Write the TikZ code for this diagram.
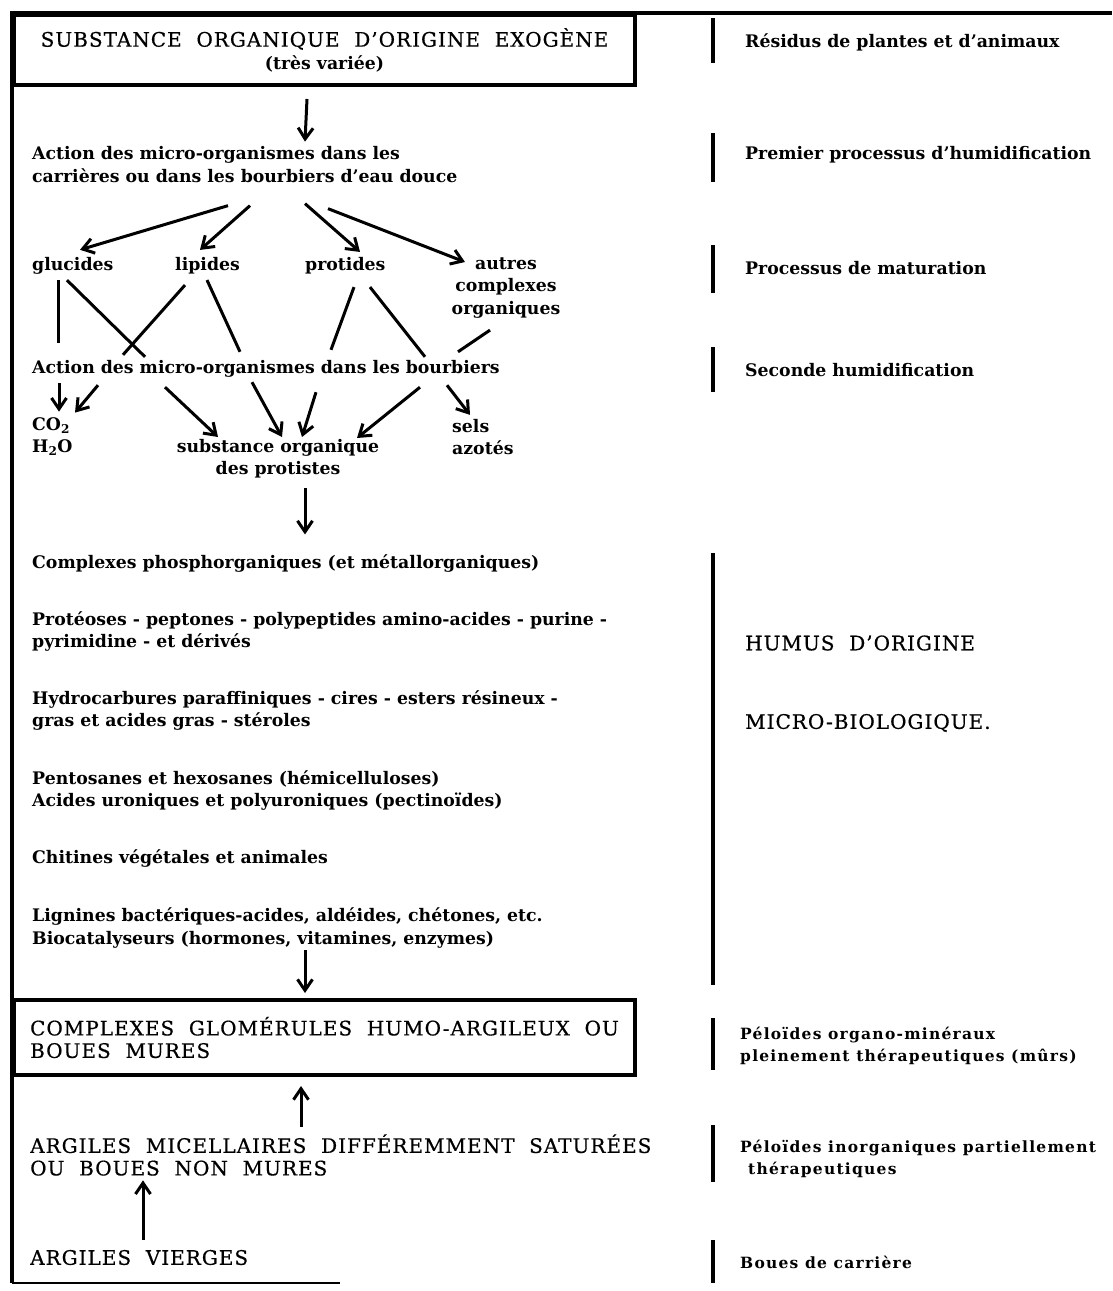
\documentclass[tikz,border=0pt]{standalone}
\usepackage{fontspec}
\setmainfont{DejaVu Serif}
\newfontfamily\capsfont[LetterSpace=5,WordSpace=2,FakeBold=0.6]{DejaVu Serif}
\newfontfamily\sidefont[LetterSpace=8]{DejaVu Serif}
\usetikzlibrary{positioning,arrows.meta}
\tikzset{main text/.style={inner sep=0pt,anchor=west,align=left,font=\bfseries\fontsize{17.3}{22.5}\selectfont},
  caps text/.style={inner sep=0pt,anchor=west,align=left,font=\capsfont\fontsize{20}{22.5}\selectfont},
  side text/.style={inner sep=0pt,anchor=west,align=left,font=\sidefont\bfseries\fontsize{15.5}{22}\selectfont},
  main box/.style={draw,line width=4pt,anchor=north west,inner sep=0pt,minimum width=621pt},
  flow/.style={line width=3pt,-{Straight Barb[length=11pt,width=15pt]}},
  link/.style={line width=3pt},
  side bar/.style={line width=4.5pt},
  frame/.style={line width=4pt}}

\begin{document}
\begin{tikzpicture}[x=1pt,y=-1pt]
            \useasboundingbox (0,0) rectangle (1112,1291);
            \draw[frame] (1112,13) -- (12,13) -- (12,1283);
            \draw[line width=2pt] (12,1283) -- (340,1283);

            \node[main box,align=center,minimum height=70pt,font=\bfseries\fontsize{17.3}{22.5}\selectfont] (origin) at (12,13)
                {{\capsfont\mdseries\fontsize{20}{22.5}\selectfont SUBSTANCE ORGANIQUE D’ORIGINE EXOGÈNE}\\(très variée)};
            \node[main text] (act1) at (32,164.5) {Action des micro-organismes dans les\\carrières ou dans les bourbiers d’eau douce};
            \node[main text] (gluc) at (32,266) {glucides};
            \node[main text] (lip) at (175,266) {lipides};
            \node[main text] (prot) at (305,266) {protides};
            \node[main text,anchor=north,align=center] (autres) at (506,257.5) {autres\\complexes\\organiques};
            \node[main text] (act2) at (32,369) {Action des micro-organismes dans les bourbiers};
            \node[main text] (co2) at (32,436.5) {CO\textsubscript{2}\\H\textsubscript{2}O};
            \node[main text,anchor=north,align=center] (subst) at (278,439) {substance organique\\des protistes};
            \node[main text] (sels) at (452,437) {sels\\azotés};

            \node[main text] (compl) at (32,563) {Complexes phosphorganiques (et métallorganiques)};
            \node[main text] (prote) at (32,631.5) {Protéoses - peptones - polypeptides amino-acides - purine -\\pyrimidine - et dérivés};
            \node[main text] (hydro) at (32,710.5) {Hydrocarbures paraffiniques - cires - esters résineux -\\gras et acides gras - stéroles};
            \node[main text] (pento) at (32,790.5) {Pentosanes et hexosanes (hémicelluloses)\\Acides uroniques et polyuroniques (pectinoïdes)};
            \node[main text] (chit) at (32,858) {Chitines végétales et animales};
            \node[main text] (lign) at (32,928) {Lignines bactériques-acides, aldéides, chétones, etc.\\Biocatalyseurs (hormones, vitamines, enzymes)};

            \node[main box,align=left,minimum height=75pt,font=\capsfont\fontsize{20}{22.5}\selectfont] (mures) at (12,998)
                {COMPLEXES GLOMÉRULES HUMO-ARGILEUX OU\\BOUES MURES};
            \node[caps text] (argm) at (30,1155) {ARGILES MICELLAIRES DIFFÉREMMENT SATURÉES\\OU BOUES NON MURES};
            \node[caps text] (argv) at (30,1257.5) {ARGILES VIERGES};

            \node[main text] (res) at (745,42) {Résidus de plantes et d’animaux};
            \node[main text] (prem) at (745,155) {Premier processus d’humidification};
            \node[main text] (matur) at (745,268) {Processus de maturation};
            \node[main text] (seconde) at (745,370) {Seconde humidification};
            \node[caps text] (humus) at (745,643) {HUMUS D’ORIGINE};
            \node[caps text] (microbio) at (745,723) {MICRO-BIOLOGIQUE.};
            \node[side text] (pelo) at (740,1046) {Péloïdes organo-minéraux\\pleinement thérapeutiques (mûrs)};
            \node[side text] (peloinorg) at (740,1159) {Péloïdes inorganiques partiellement\\\hspace{8pt}thérapeutiques};
            \node[side text] (boues) at (740,1262) {Boues de carrière};

            \draw[side bar] (713,18) -- (713,63);
            \draw[side bar] (713,133) -- (713,182);
            \draw[side bar] (713,245) -- (713,293);
            \draw[side bar] (713,347) -- (713,392);
            \draw[side bar] (713,553) -- (713,985);
            \draw[side bar] (713,1018) -- (713,1070);
            \draw[side bar] (713,1125) -- (713,1182);
            \draw[side bar] (713,1240) -- (713,1283);

            \draw[flow] ([shift={(-17.5,12)}]origin.south) -- ([shift={(273,-4.75)}]act1.north west);
            \draw[flow] ([shift={(196,23)}]act1.south west) -- ([shift={(48,-7.5)}]gluc.north west);
            \draw[flow] ([shift={(218,23)}]act1.south west) -- ([shift={(25,-7.5)}]lip.north west);
            \draw[flow] ([shift={(273,21)}]act1.south west) -- ([shift={(55,-5.5)}]prot.north west);
            \draw[flow] ([shift={(296,26)}]act1.south west) -- ([shift={(-41,4.5)}]autres.north);

            \draw[link] ([shift={(26,5.5)}]gluc.south west) -- ([shift={(26,-17.5)}]act2.north west);
            \draw[link] ([shift={(35,5.5)}]gluc.south west) -- ([shift={(113,-3.5)}]act2.north west);
            \draw[link] ([shift={(10,10.5)}]lip.south west) -- ([shift={(91,-5.5)}]act2.north west);
            \draw[link] ([shift={(32,5.5)}]lip.south west) -- ([shift={(208,-8.5)}]act2.north west);
            \draw[link] ([shift={(49,12.5)}]prot.south west) -- ([shift={(299,-10.5)}]act2.north west);
            \draw[link] ([shift={(65,12.5)}]prot.south west) -- ([shift={(393,-3.5)}]act2.north west);
            \draw[link] ([shift={(-16,11.6)}]autres.south) -- ([shift={(426,-8.5)}]act2.north west);

            \draw[flow] ([shift={(27,5.5)}]act2.south west) -- ([shift={(27,-5.5)}]co2.north west);
            \draw[flow] ([shift={(66,7.5)}]act2.south west) -- ([shift={(43,-4.5)}]co2.north west);
            \draw[flow] ([shift={(133,9.5)}]act2.south west) -- ([shift={(-60,-2)}]subst.north);
            \draw[flow] ([shift={(220,4.5)}]act2.south west) -- ([shift={(4,-2)}]subst.north);
            \draw[flow] ([shift={(284,14.5)}]act2.south west) -- ([shift={(24,-2)}]subst.north);
            \draw[flow] ([shift={(388,9.5)}]act2.south west) -- ([shift={(79,-1)}]subst.north);
            \draw[flow] ([shift={(415,7.5)}]act2.south west) -- ([shift={(18,-4)}]sels.north west);

            \draw[flow] ([shift={(27,9.5)}]subst.south) -- ([shift={(273,-19.5)}]compl.north west);
            \draw[flow] ([shift={(273,2)}]lign.south west) -- ([shift={(293,-5)}]mures.north west);
            \draw[flow] ([shift={(271,-7.6)}]argm.north west) -- ([shift={(289,9)}]mures.south west);
            \draw[flow] ([shift={(113,-10)}]argv.north west) -- ([shift={(113,4.5)}]argm.south west);
        \end{tikzpicture}
\end{document}
